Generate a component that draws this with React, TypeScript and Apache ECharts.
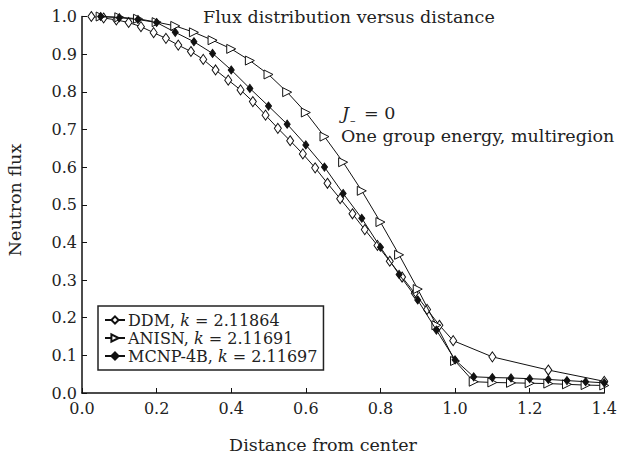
import React, { useEffect, useRef } from "react";
import * as echarts from "echarts";

const ddmX = [0.025, 0.058, 0.092, 0.125, 0.158, 0.192, 0.225, 0.258, 0.292, 0.325, 0.358, 0.392, 0.425, 0.458, 0.492, 0.525, 0.558, 0.592, 0.625, 0.658, 0.692, 0.725, 0.758, 0.792, 0.825, 0.858, 0.892, 0.925, 0.958, 0.995, 1.1, 1.25, 1.4];
const ddmY = [1.0, 0.996, 0.991, 0.984, 0.973, 0.957, 0.942, 0.924, 0.907, 0.886, 0.858, 0.831, 0.805, 0.774, 0.738, 0.703, 0.67, 0.635, 0.598, 0.557, 0.516, 0.476, 0.434, 0.392, 0.35, 0.308, 0.265, 0.222, 0.18, 0.139, 0.096, 0.061, 0.031];

const anisnX = [0.05, 0.1, 0.15, 0.2, 0.25, 0.3, 0.35, 0.4, 0.45, 0.5, 0.55, 0.6, 0.65, 0.7, 0.75, 0.8, 0.85, 0.9, 0.95, 1.0, 1.05, 1.1, 1.15, 1.2, 1.25, 1.3, 1.35, 1.4];
const anisnY = [1.0, 0.998, 0.994, 0.985, 0.975, 0.958, 0.937, 0.914, 0.883, 0.846, 0.799, 0.745, 0.681, 0.613, 0.537, 0.454, 0.367, 0.276, 0.18, 0.085, 0.03, 0.028, 0.027, 0.026, 0.025, 0.023, 0.021, 0.02];

const mcnpX = [0.05, 0.1, 0.15, 0.2, 0.25, 0.3, 0.35, 0.4, 0.45, 0.5, 0.55, 0.6, 0.65, 0.7, 0.75, 0.8, 0.85, 0.9, 0.95, 1.0, 1.05, 1.1, 1.15, 1.2, 1.25, 1.3, 1.35, 1.4];
const mcnpY = [1.0, 0.997, 0.992, 0.984, 0.958, 0.933, 0.902, 0.858, 0.809, 0.762, 0.714, 0.659, 0.6, 0.53, 0.464, 0.387, 0.315, 0.247, 0.167, 0.088, 0.043, 0.041, 0.04, 0.038, 0.036, 0.033, 0.03, 0.027];

const seriesNames = ["DDM", "ANISN", "MCNP-4B"];
const kValues = ["2.11864", "2.11691", "2.11697"];

const titleText = "Flux distribution versus distance";
const noteLine2 = "One group energy, multiregion";
const xName = "Distance from center";
const yName = "Neutron flux";

const FONT = "DejaVu Serif";

function zip(xs: number[], ys: number[]) {
  return xs.map((x, i) => [x, ys[i]]);
}

export default function App() {
  const ref = useRef<HTMLDivElement>(null);
  useEffect(() => {
    if (!ref.current) return;
    const chart = echarts.init(ref.current, undefined, { renderer: "svg" });
    const lineStyle = { color: "#111", width: 1 };
    const txt = (text: string, x: number, y: number, extra: any = {}) => ({
      type: "text",
      x,
      y,
      style: {
        text,
        fontFamily: FONT,
        fontSize: 17.5,
        fill: "#222",
        align: "left",
        verticalAlign: "middle",
        ...extra,
      },
    });
    chart.setOption({
      animation: false,
      backgroundColor: "#fff",
      grid: { left: 82, right: 12, top: 16.5, bottom: 66, containLabel: false },
      xAxis: {
        type: "value",
        min: 0,
        max: 1.4,
        interval: 0.2,
        axisLine: { lineStyle: { color: "#111", width: 1.5 } },
        axisTick: { inside: true, length: 5, lineStyle: { color: "#111" } },
        splitLine: { show: false },
        axisLabel: {
          fontFamily: FONT,
          fontSize: 16,
          color: "#222",
          margin: 7,
          formatter: (v: number) => v.toFixed(1),
        },
      },
      yAxis: {
        type: "value",
        min: 0,
        max: 1,
        interval: 0.1,
        axisLine: { show: true, lineStyle: { color: "#111", width: 1.5 } },
        axisTick: { show: true, inside: true, length: 5, lineStyle: { color: "#111" } },
        splitLine: { show: false },
        axisLabel: {
          fontFamily: FONT,
          fontSize: 16,
          color: "#222",
          margin: 5,
          formatter: (v: number) => v.toFixed(1),
        },
      },
      legend: {
        orient: "vertical",
        left: 98,
        top: 306,
        data: seriesNames,
        itemWidth: 20,
        itemHeight: 9,
        itemGap: 0,
        padding: [5, 6, 5, 6],
        borderColor: "#222",
        borderWidth: 1.5,
        backgroundColor: "#fff",
        formatter: (name: string) => {
          const i = seriesNames.indexOf(name);
          return `${name}, {k|k} = ${kValues[i]}`;
        },
        textStyle: {
          fontFamily: FONT,
          fontSize: 16,
          color: "#222",
          lineHeight: 18,
          padding: [0, 0, 0, -2],
          rich: {
            k: { fontFamily: FONT, fontSize: 16, fontStyle: "italic", color: "#222", lineHeight: 18 },
          },
        },
      },
      graphic: [
        txt(titleText, 203, 17),
        txt("J", 342, 113, { fontStyle: "italic" }),
        txt("\u2013", 350, 120, { fontSize: 11 }),
        txt("= 0", 364, 113),
        txt(noteLine2, 341, 136),
        txt(xName, 323, 445, { align: "center" }),
        {
          type: "text",
          x: 15,
          y: 200,
          rotation: Math.PI / 2,
          style: {
            text: yName,
            fontFamily: FONT,
            fontSize: 17.5,
            fill: "#222",
            align: "center",
            verticalAlign: "middle",
          },
        },
      ],
      series: [
        {
          name: seriesNames[0],
          type: "line",
          data: zip(ddmX, ddmY),
          symbol: "diamond",
          symbolSize: [7, 10],
          lineStyle,
          itemStyle: { color: "#fff", borderColor: "#111", borderWidth: 1 },
          z: 3,
        },
        {
          name: seriesNames[1],
          type: "line",
          data: zip(anisnX, anisnY),
          symbol: "triangle",
          symbolRotate: -90,
          symbolSize: [9, 9],
          lineStyle,
          itemStyle: { color: "#fff", borderColor: "#111", borderWidth: 1 },
          z: 4,
        },
        {
          name: seriesNames[2],
          type: "line",
          data: zip(mcnpX, mcnpY),
          symbol: "diamond",
          symbolSize: [6, 8],
          lineStyle,
          itemStyle: { color: "#111", borderColor: "#111", borderWidth: 1 },
          z: 5,
        },
      ],
    });
    return () => chart.dispose();
  }, []);
  return (
    <div
      ref={ref}
      style={{ position: "fixed", left: 0, top: 0, width: 620, height: 459 }}
    />
  );
}
